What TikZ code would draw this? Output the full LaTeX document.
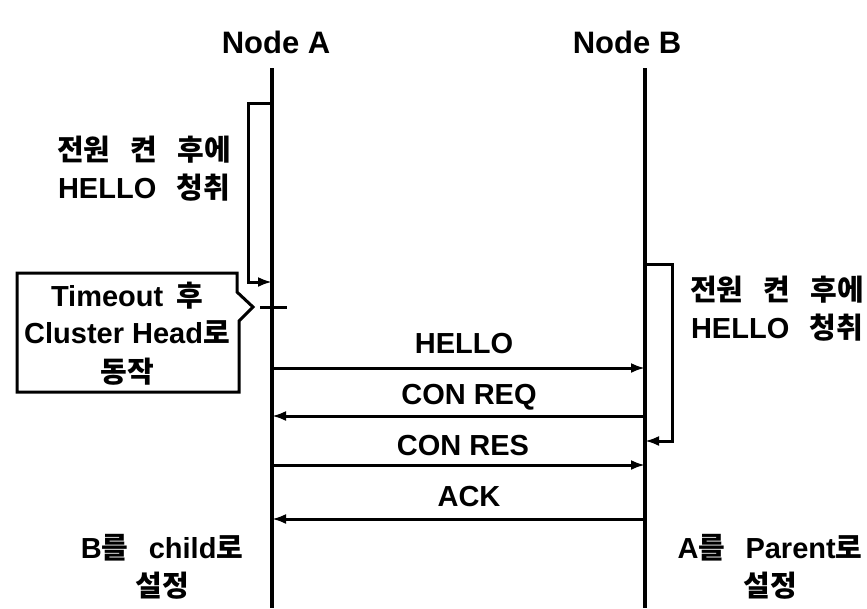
\documentclass[tikz,border=0pt]{standalone}
\usepackage{fontspec}
\setmainfont{Liberation Sans}
\newfontfamily\kr{Noto Sans CJK KR}
\usetikzlibrary{arrows.meta}
\newcommand{\K}[1]{{\kr\bfseries #1}}
\newcommand{\wsp}{\hspace{0.45em}}
\newcommand{\wwsp}{\hspace{0.7em}}
\begin{document}
\begin{tikzpicture}[x=1pt,y=-1pt,
  life/.style={line width=3.2pt},
  msg/.style={line width=3pt,-{Latex[length=14pt,width=10pt]}},
  lbl/.style={font=\fontsize{29}{34}\selectfont\bfseries,inner sep=0pt,align=center},
  txt/.style={font=\fontsize{29}{38}\selectfont\bfseries,inner sep=0pt,align=center},
  callout/.style={line width=3pt}]
\useasboundingbox (0,0) rectangle (867,608);
% headers
\node[lbl,font=\fontsize{31}{34}\selectfont\bfseries] (hA) at (276,42) {Node A};
\node[lbl,font=\fontsize{31}{34}\selectfont\bfseries] (hB) at (627,42) {Node B};
% lifelines
\coordinate (At) at (272,68); \coordinate (Ab) at (272,608);
\coordinate (Bt) at (645,68); \coordinate (Bb) at (645,608);
\draw[life] (At) -- (Ab);
\draw[life] (Bt) -- (Bb);
% self loop A
\coordinate (la1) at (272,103); \coordinate (la2) at (272,282);
\draw[msg] (la1) -- (248,103) -- (248,282) -- (la2);
\node[txt] (tA) at (144,169) {\K{전원\wwsp 켠\wwsp 후에}\\HELLO\wwsp\K{청취}};
% callout
\coordinate (dash1) at (260,307); \coordinate (dash2) at (287,307);
\draw[callout] (dash1) -- (dash2);
\draw[callout] (17,273) -- (237,273) -- (237,292) -- (253,307) -- (239,321) -- (239,392) -- (17,392) -- cycle;
\node[lbl] (c1) at (127,296) {Timeout\wsp\K{후}};
\node[lbl] (c2) at (127,332) {Cluster Head\K{로}};
\node[lbl] (c3) at (127,372) {\K{동작}};
% self loop B
\coordinate (lb1) at (645,264); \coordinate (lb2) at (645,441);
\draw[msg] (lb1) -- (672,264) -- (672,441) -- (lb2);
\node[txt] (tB) at (777,309) {\K{전원\wwsp 켠\wwsp 후에}\\HELLO\wwsp\K{청취}};
% messages
\coordinate (m1a) at (272,368); \coordinate (m1b) at (645,368);
\coordinate (m2a) at (272,416); \coordinate (m2b) at (645,416);
\coordinate (m3a) at (272,465); \coordinate (m3b) at (645,465);
\coordinate (m4a) at (272,519); \coordinate (m4b) at (645,519);
\draw[msg] (m1a) -- (m1b);
\draw[msg] (m2b) -- (m2a);
\draw[msg] (m3a) -- (m3b);
\draw[msg] (m4b) -- (m4a);
\node[lbl] (l1) at (464,344) {HELLO};
\node[lbl] (l2) at (469,397) {CON REQ};
\node[lbl] (l3) at (463,446) {CON RES};
\node[lbl] (l4) at (469,497) {ACK};
% bottom
\node[txt] (bA) at (162,567) {B\K{를}\wwsp child\K{로}\\\K{설정}};
\node[txt] (bB) at (770,567) {A\K{를}\wwsp Parent\K{로}\\\K{설정}};
\end{tikzpicture}
\end{document}
